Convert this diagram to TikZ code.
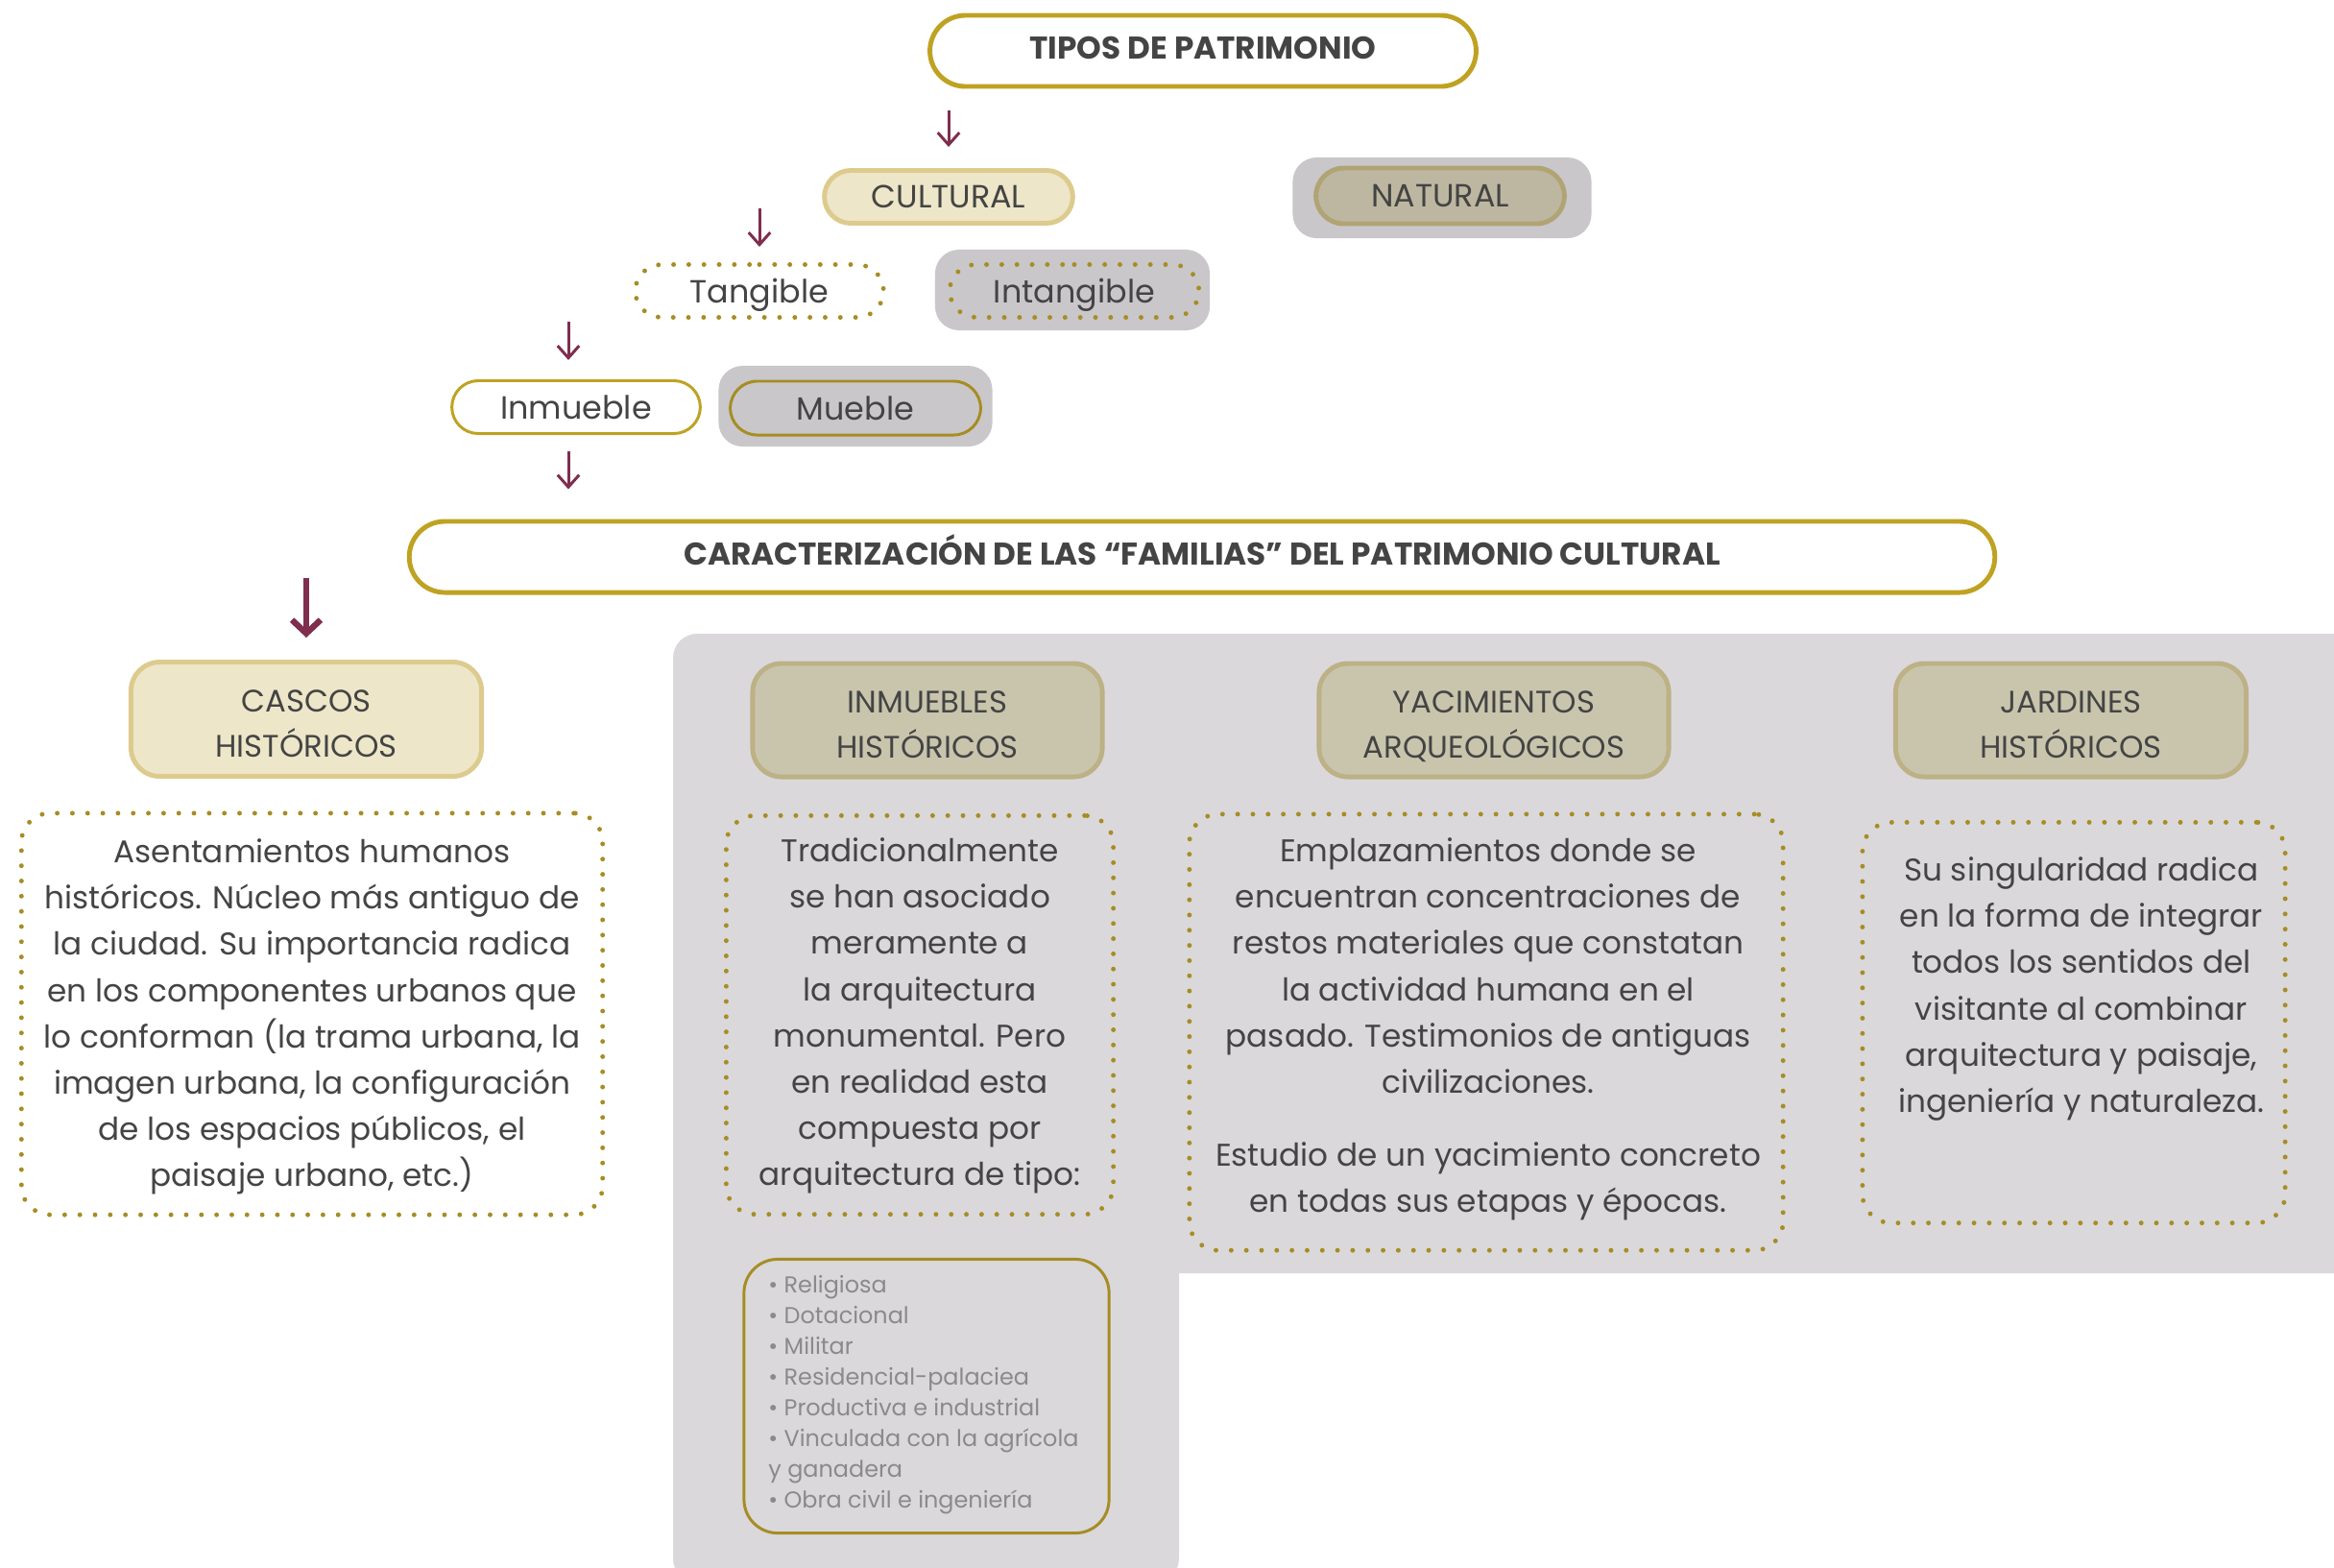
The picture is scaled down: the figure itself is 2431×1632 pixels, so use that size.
\documentclass[tikz,border=0pt]{standalone}
\usepackage{fontspec}
\setmainfont{Poppins}
\usetikzlibrary{arrows.meta,shapes.misc}

\definecolor{oro}{HTML}{BFA222}
\definecolor{oroosc}{HTML}{A68D24}
\definecolor{granate}{HTML}{7F2E4E}
\definecolor{txt}{HTML}{444444}
\definecolor{txtgris}{HTML}{8A8A8A}
\definecolor{crema}{HTML}{EDE6C8}
\definecolor{cremaborde}{HTML}{DDCB8E}
\definecolor{tostado}{HTML}{C9C5AD}
\definecolor{tostadoborde}{HTML}{BDB185}
\definecolor{natfondo}{HTML}{BDB7A1}
\definecolor{natborde}{HTML}{B1A474}
\definecolor{grisfondo}{HTML}{C9C7CA}
\definecolor{panel}{HTML}{DAD8DB}

\newcommand{\desctxt}{\fontsize{9.3}{13.7}\selectfont}

\begin{document}
\begin{tikzpicture}[x=0.01cm,y=-0.01cm,
  every node/.style={text=txt},
  arr/.style={draw=granate, line width=0.85pt, -{Straight Barb[length=3.6pt,width=6.4pt]}},
  bigarr/.style={draw=granate, line width=1.8pt, -{Straight Barb[length=4pt,width=8.5pt]}},
  titulo/.style={rounded rectangle, draw=oro, line width=1.4pt, fill=white,
    font=\fontsize{9.3}{11}\selectfont\bfseries, minimum height=0.74cm,
    text height=6.5pt, text depth=1.8pt},
  pill/.style={rounded rectangle, minimum height=0.55cm, minimum width=2.82cm,
    font=\fontsize{9.5}{11}\selectfont, text depth=0pt},
  fondo/.style={rectangle, rounded corners=0.25cm, fill=grisfondo, minimum height=0.84cm},
  puntos/.style={draw=oroosc, line width=1.4pt, line cap=round, dash pattern=on 0pt off 4.5pt},
  cabecera/.style={rectangle, rounded corners=0.3cm, line width=1.4pt, align=center,
    minimum width=3.64cm, minimum height=1.18cm, font=\fontsize{9.2}{13.4}\selectfont,
    text height=22.5pt, text depth=0pt},
  caja/.style={rectangle, rounded corners=0.3cm, puntos},
  desc/.style={align=center, font=\desctxt}
]
\useasboundingbox (0,0) rectangle (2431,1632);

% panel gris de fondo
\fill[panel, rounded corners=0.25cm] (701,660) rectangle (2460,1326);
\fill[panel, rounded corners=0.25cm] (701,1200) rectangle (1228,1648);

% nivel 1
\node[titulo, minimum width=5.92cm] (tipos) at (1253,53) {TIPOS DE PATRIMONIO};

% cultural / natural
\node[pill, fill=crema, draw=cremaborde, line width=1.4pt] (cultural) at (988,205) {CULTURAL};
\node[fondo, minimum width=3.11cm] (natfondo) at (1502,206) {};
\node[pill, fill=natfondo, draw=natborde, line width=1.4pt, minimum height=0.58cm] (natural) at (1500,204) {NATURAL};

% tangible / intangible
\node[pill, puntos, fill=white] (tangible) at (791,303) {Tangible};
\node[fondo, minimum width=2.86cm] (intfondo) at (1117,302) {};
\node[pill, puntos, minimum width=2.83cm] (intangible) at (1119,303) {Intangible};

% inmueble / mueble
\node[pill, draw=oro, line width=0.85pt, fill=white] (inmueble) at (600,424) {Inmueble};
\node[fondo, minimum width=2.85cm] (mubfondo) at (891,423) {};
\node[pill, draw=oroosc, line width=0.85pt, minimum width=2.84cm, minimum height=0.56cm] (mueble) at (891,425) {Mueble};

% nivel familias
\node[titulo, minimum width=16.74cm] (caract) at (1252,580)
  {CARACTERIZACIÓN DE LAS “FAMILIAS” DEL PATRIMONIO CULTURAL};

% cascos historicos
\node[cabecera, fill=crema, draw=cremaborde, minimum width=3.65cm, minimum height=1.19cm] (cascos) at (319,749) {CASCOS\\HISTÓRICOS};
\node[caja, minimum width=6.05cm, minimum height=4.18cm] (cascoscaja) at (325,1056) {};
\node[desc] (cascostxt) at (325,1059) {Asentamientos humanos\\
  históricos. Núcleo más antiguo de\\
  la ciudad. Su importancia radica\\
  en los componentes urbanos que\\
  lo conforman (la trama urbana, la\\
  imagen urbana, la configuración\\
  de los espacios públicos, el\\
  paisaje urbano, etc.)};

% flechas
\draw[arr, shorten <=0.22cm, shorten >=0.22cm] (tipos.south -| cultural.north) -- (cultural.north);
\draw[arr, shorten <=0.12cm, shorten >=0.16cm] (cultural.center -| tangible.north) -- (tangible.north);
\draw[arr, shorten <=0.02cm, shorten >=0.2cm] ([xshift=-0.08cm]tangible.south -| inmueble.north) -- ([xshift=-0.08cm]inmueble.north);
\draw[arr, shorten <=0.17cm, shorten >=0.31cm] ([xshift=-0.08cm]inmueble.south) -- ([xshift=-0.08cm]inmueble.south |- caract.north);
\draw[bigarr, shorten <=0.22cm, shorten >=0.23cm] (caract.center -| cascos.north) -- (cascos.north);

% inmuebles historicos
\node[cabecera, fill=tostado, draw=tostadoborde] (inmuebles) at (966,750) {INMUEBLES\\HISTÓRICOS};
\node[caja, minimum width=4.03cm, minimum height=4.15cm] (inmcaja) at (958,1057) {};
\node[desc] (inmtxt) at (958,1058) {Tradicionalmente\\ se han asociado\\ meramente a\\
  la arquitectura\\ monumental. Pero\\ en realidad esta\\ compuesta por\\ arquitectura de tipo:};
\node[rectangle, rounded corners=0.35cm, draw=oroosc, line width=0.85pt,
  minimum width=3.8cm, minimum height=2.85cm] (tiposcaja) at (965,1454) {};
\node[align=left, text=txtgris, font=\fontsize{6.8}{9.1}\selectfont, anchor=west] (tipostxt) at (788,1453)
  {• Religiosa\\ • Dotacional\\ • Militar\\ • Residencial-palaciea\\ • Productiva e industrial\\
   • Vinculada con la agrícola\\ y ganadera\\ • Obra civil e ingeniería};

% yacimientos arqueologicos
\node[cabecera, fill=tostado, draw=tostadoborde] (yacimientos) at (1556,750) {YACIMIENTOS\\ARQUEOLÓGICOS};
\node[caja, minimum width=6.18cm, minimum height=4.54cm] (yaccaja) at (1548,1075) {};
\node[desc] (yactxt) at (1550,1072) {Emplazamientos donde se\\ encuentran concentraciones de\\
  restos materiales que constatan\\ la actividad humana en el\\ pasado. Testimonios de antiguas\\
  civilizaciones.\\[8pt] Estudio de un yacimiento concreto\\ en todas sus etapas y épocas.};

% jardines historicos
\node[cabecera, fill=tostado, draw=tostadoborde, minimum width=3.65cm] (jardines) at (2157,750) {JARDINES\\HISTÓRICOS};
\node[caja, minimum width=4.4cm, minimum height=4.17cm] (jarcaja) at (2160,1065) {};
\node[desc] (jartxt) at (2168,1030) {Su singularidad radica\\ en la forma de integrar\\
  todos los sentidos del\\ visitante al combinar\\ arquitectura y paisaje,\\ ingeniería y naturaleza.};
\end{tikzpicture}
\end{document}
